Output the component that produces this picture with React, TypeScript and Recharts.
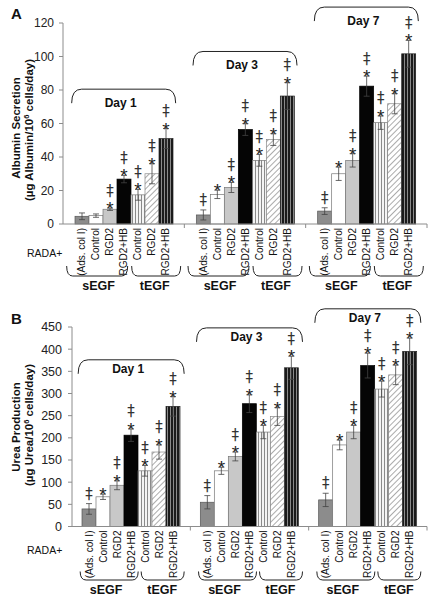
import React from "react";
import { BarChart, Bar, XAxis, YAxis, ErrorBar, ReferenceDot } from "recharts";

const FONT = "'Liberation Sans', Arial, sans-serif";
const MARK_FONT = "'DejaVu Sans', sans-serif";

const days = ["Day 1", "Day 3", "Day 7"];
const barLabels = ["(Ads. col I)", "Control", "RGD2", "RGD2+HB", "Control", "RGD2", "RGD2+HB"];
const seriesKeys = ["ads", "ctrlS", "rgdS", "hbS", "ctrlT", "rgdT", "hbT"];

// A: albumin secretion (µg albumin / 10^6 cells / day)
const albAds = [4.6, 5.4, 7.7];
const albAdsErr = [2, 3, 2];
const albCtrlS = [5, 17.7, 30];
const albCtrlSErr = [1, 2.5, 4];
const albRgdS = [8.8, 21.8, 38];
const albRgdSErr = [0.7, 3, 4];
const albHbS = [26.8, 56.4, 82.3];
const albHbSErr = [2.2, 3.5, 6];
const albCtrlT = [17.4, 38, 60.5];
const albCtrlTErr = [3.2, 3.5, 4];
const albRgdT = [30, 50.4, 71.8];
const albRgdTErr = [6, 3.5, 6];
const albHbT = [51, 76.4, 101.6];
const albHbTErr = [6, 8, 8];
const albBracket = [80.5, 103, 129.5];

// B: urea production (µg urea / 10^6 cells / day)
const ureaAds = [39.6, 54.7, 60];
const ureaAdsErr = [12, 15, 15];
const ureaCtrlS = [67, 125.6, 184];
const ureaCtrlSErr = [6, 8, 11];
const ureaRgdS = [93, 158, 213];
const ureaRgdSErr = [10, 10, 15];
const ureaHbS = [206, 277, 363];
const ureaHbSErr = [14, 20, 28];
const ureaCtrlT = [125.6, 213, 310];
const ureaCtrlTErr = [12, 15, 18];
const ureaRgdT = [168, 248, 342];
const ureaRgdTErr = [16, 20, 22];
const ureaHbT = [271, 358, 395];
const ureaHbTErr = [22, 26, 30];
const ureaBracket = [376, 448, 491];

// significance marks: * vs control, ‡ vs adsorbed collagen
const albMarks = [
  ["", "‡", "‡"],
  ["", "*", "*"],
  ["‡*", "‡*", "‡*"],
  ["‡*", "‡*", "‡*"],
  ["‡*", "‡*", "‡*"],
  ["‡*", "‡*", "‡*"],
  ["‡*", "‡*", "‡*"],
];
const ureaMarks = [
  ["‡", "‡", "‡"],
  ["*", "*", "*"],
  ["‡*", "‡*", "‡*"],
  ["‡*", "‡*", "‡*"],
  ["‡*", "‡*", "‡*"],
  ["‡*", "‡*", "‡*"],
  ["‡*", "‡*", "‡*"],
];

const albAxisTicks = [0, 20, 40, 60, 80, 100, 120];
const ureaAxisTicks = [0, 50, 100, 150, 200, 250, 300, 350, 400, 450];

const FILLS = ["#8c8c8c", "#ffffff", "#c8c8c8", "#050505", "url(#vLight)", "url(#diag)", "url(#vDark)"];
const STROKES = ["#555", "#777", "#777", "#000", "#777", "#888", "#222"];
const BAR = 14;

function buildRows(vals: number[][], errs: number[][], marks: string[][], bracket: number[]) {
  return days.map((d, i) => {
    const row: any = { day: d, bracket: bracket[i] };
    seriesKeys.forEach((k, s) => {
      row[k] = vals[s][i];
      row[k + "Err"] = errs[s][i];
      row[k + "Mark"] = marks[s][i];
    });
    return row;
  });
}

const albRows = buildRows(
  [albAds, albCtrlS, albRgdS, albHbS, albCtrlT, albRgdT, albHbT],
  [albAdsErr, albCtrlSErr, albRgdSErr, albHbSErr, albCtrlTErr, albRgdTErr, albHbTErr],
  albMarks,
  albBracket
);
const ureaRows = buildRows(
  [ureaAds, ureaCtrlS, ureaRgdS, ureaHbS, ureaCtrlT, ureaRgdT, ureaHbT],
  [ureaAdsErr, ureaCtrlSErr, ureaRgdSErr, ureaHbSErr, ureaCtrlTErr, ureaRgdTErr, ureaHbTErr],
  ureaMarks,
  ureaBracket
);

function MarkedBar(p: any) {
  const { x, y, width, height, payload, k, fill, stroke } = p;
  const v = payload[k];
  const err = payload[k + "Err"];
  const mark: string = payload[k + "Mark"] || "";
  const per = v ? height / v : 0;
  const top = y - err * per;
  const cx = x + width / 2;
  const star = mark.includes("*");
  const dag = mark.includes("‡");
  return (
    <g>
      <rect x={x} y={y} width={width} height={height} fill={fill} stroke={stroke} strokeWidth={0.7} />
      {star && (
        <text x={cx} y={top + 7} textAnchor="middle" fontSize={19} fill="#222" fontFamily={FONT}>
          *
        </text>
      )}
      {dag && (
        <text x={cx} y={star ? top - 12.5 : top - 5} textAnchor="middle" fontSize={15} fill="#333" fontFamily={MARK_FONT}>
          ‡
        </text>
      )}
    </g>
  );
}

const brace = (x1: number, x2: number, yTop: number, yBot: number, r: number) =>
  `M${x1},${yTop} Q${x1},${yBot} ${x1 + r},${yBot} L${x2 - r},${yBot} Q${x2},${yBot} ${x2},${yTop}`;

function GroupTick(p: any) {
  const { x, y, cfg } = p;
  return (
    <g fontFamily={FONT}>
      {barLabels.map((lab, i) => {
        const lx = x + (i - 3) * BAR;
        const ly = y + 4;
        return (
          <text
            key={i}
            x={lx}
            y={ly}
            transform={`rotate(-90 ${lx} ${ly})`}
            textAnchor="end"
            dominantBaseline="central"
            fontSize={10}
            fill="#111"
          >
            {lab}
          </text>
        );
      })}
      <path d={brace(x + cfg.sSpan[0], x + cfg.sSpan[1], y + cfg.braceY[0], y + cfg.braceY[1], 6)} fill="none" stroke="#222" strokeWidth={1} />
      <path d={brace(x + cfg.tSpan[0], x + cfg.tSpan[1], y + cfg.braceY[0], y + cfg.braceY[1], 6)} fill="none" stroke="#222" strokeWidth={1} />
      <text x={x - 25} y={y + cfg.egfY} textAnchor="middle" fontWeight="bold" fontSize={12.5} fill="#111">
        sEGF
      </text>
      <text x={x + 31} y={y + cfg.egfY} textAnchor="middle" fontWeight="bold" fontSize={12.5} fill="#111">
        tEGF
      </text>
      <line x1={x + cfg.band / 2} y1={y} x2={x + cfg.band / 2} y2={y + 4} stroke="#8c8c8c" />
    </g>
  );
}

function DayBracket(p: any) {
  const { cx, cy, text, cfg } = p;
  const x1 = cx - cfg.brHW;
  const x2 = cx + cfg.brHW;
  const d = `M${x1},${cy + cfg.brDrop} Q${x1},${cy} ${x1 + 10},${cy} L${x2 - 10},${cy} Q${x2},${cy} ${x2},${cy + cfg.brDrop}`;
  return (
    <g>
      <path d={d} fill="none" stroke="#222" strokeWidth={1} />
      <text x={cx - 3} y={cy + cfg.dayDy} textAnchor="middle" fontWeight="bold" fontSize={12} fill="#111" fontFamily={FONT}>
        {text}
      </text>
    </g>
  );
}

function Panel({ rows, cfg }: { rows: any[]; cfg: any }) {
  return (
    <BarChart
      width={431}
      height={300}
      data={rows}
      margin={{ top: cfg.top, right: 4, bottom: cfg.bottom, left: 0 }}
      barGap={0}
      barSize={BAR}
    >
      <XAxis
        dataKey="day"
        axisLine={{ stroke: "#8c8c8c" }}
        tickLine={false}
        tickSize={0}
        tickMargin={0}
        interval={0}
        height={70}
        tick={(tp: any) => <GroupTick {...tp} cfg={cfg} />}
      />
      <YAxis
        width={cfg.yw}
        domain={[0, cfg.max]}
        ticks={cfg.ticks}
        interval={0}
        axisLine={{ stroke: "#8c8c8c" }}
        tickLine={{ stroke: "#8c8c8c" }}
        tickSize={4}
        tickMargin={cfg.tm}
        tick={{ fontSize: cfg.fs, fill: "#222", fontFamily: FONT }}
      />
      {seriesKeys.map((k, i) => (
        <Bar
          key={k}
          dataKey={k}
          fill={FILLS[i]}
          stroke={STROKES[i]}
          isAnimationActive={false}
          shape={(bp: any) => <MarkedBar {...bp} k={k} fill={FILLS[i]} stroke={STROKES[i]} />}
        >
          <ErrorBar dataKey={k + "Err"} width={3} stroke="#444" strokeWidth={0.8} isAnimationActive={false} />
        </Bar>
      ))}
      {rows.map((r) => (
        <ReferenceDot
          key={r.day}
          x={r.day}
          y={r.bracket}
          ifOverflow="visible"
          shape={(dp: any) => <DayBracket {...dp} text={r.day} cfg={cfg} />}
        />
      ))}
    </BarChart>
  );
}

const cfgA = {
  top: 23, bottom: 6, yw: 63, max: 120, ticks: albAxisTicks, fs: 12, tm: 5,
  band: 364 / 3, sSpan: [-57, 4], tSpan: [8, 57], braceY: [42, 52], egfY: 66,
  brHW: 52, brDrop: 14, dayDy: 18,
};
const cfgB = {
  top: 27, bottom: 3.5, yw: 72, max: 450, ticks: ureaAxisTicks, fs: 12.5, tm: 6,
  band: 355 / 3, sSpan: [-51, 7], tSpan: [10, 53], braceY: [45, 53.5], egfY: 67.5,
  brHW: 53, brDrop: 14, dayDy: 13.5,
};

export default function App() {
  return (
    <div style={{ position: "absolute", left: 0, top: 0, width: 431, height: 600, background: "#fff", fontFamily: FONT }}>
      <svg width={0} height={0} style={{ position: "absolute" }}>
        <defs>
          <pattern id="vLight" width={3} height={4} patternUnits="userSpaceOnUse">
            <rect width={3} height={4} fill="#f4f4f4" />
            <rect width={1} height={4} fill="#8a8a8a" />
          </pattern>
          <pattern id="diag" width={4} height={4} patternUnits="userSpaceOnUse" patternTransform="rotate(45)">
            <rect width={4} height={4} fill="#ffffff" />
            <rect width={1} height={4} fill="#ababab" />
          </pattern>
          <pattern id="vDark" width={3} height={4} patternUnits="userSpaceOnUse">
            <rect width={3} height={4} fill="#1a1a1a" />
            <rect x={2} width={1} height={4} fill="#8a8a8a" />
          </pattern>
        </defs>
      </svg>
      <div style={{ position: "absolute", left: 0, top: 0 }}>
        <Panel rows={albRows} cfg={cfgA} />
      </div>
      <div style={{ position: "absolute", left: 0, top: 300 }}>
        <Panel rows={ureaRows} cfg={cfgB} />
      </div>
      <svg width={431} height={600} style={{ position: "absolute", left: 0, top: 0, pointerEvents: "none" }} fontFamily={FONT}>
        <text x={11} y={19} fontWeight="bold" fontSize={15} fill="#111">A</text>
        <text x={11} y={324} fontWeight="bold" fontSize={15} fill="#111">B</text>
        <text x={20} y={128} transform="rotate(-90 20 128)" textAnchor="middle" fontWeight="bold" fontSize={11.5} fill="#111">
          Albumin Secretion
        </text>
        <text x={33} y={130} transform="rotate(-90 33 130)" textAnchor="middle" fontWeight="bold" fontSize={11.5} fill="#111">
          (µg Albumin/10<tspan fontSize={7.5} dy={-4}>6</tspan><tspan dy={4}> cells/day)</tspan>
        </text>
        <text x={20} y={427} transform="rotate(-90 20 427)" textAnchor="middle" fontWeight="bold" fontSize={11.5} fill="#111">
          Urea Production
        </text>
        <text x={33} y={425} transform="rotate(-90 33 425)" textAnchor="middle" fontWeight="bold" fontSize={11.5} fill="#111">
          (µg Urea/10<tspan fontSize={7.5} dy={-4}>6</tspan><tspan dy={4}> cells/day)</tspan>
        </text>
        <text x={27} y={257} fontSize={10.5} fill="#111">RADA+</text>
        <text x={27} y={554} fontSize={10.5} fill="#111">RADA+</text>
      </svg>
    </div>
  );
}
